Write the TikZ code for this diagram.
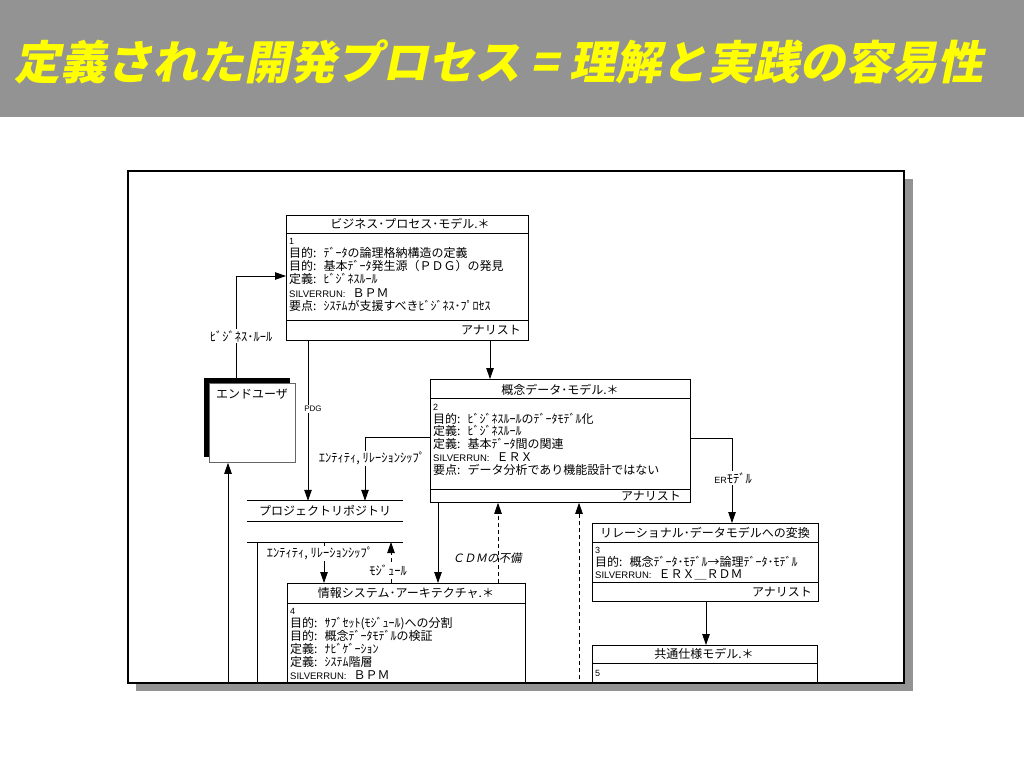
\documentclass[tikz,border=0pt]{standalone}
\usepackage{fontspec}
\setmainfont{Noto Sans CJK JP}
\newfontfamily\jpsl[FakeSlant=0.2]{Noto Sans CJK JP}
\newfontfamily\lat{Liberation Sans}
\usetikzlibrary{arrows.meta}
\definecolor{barcol}{HTML}{939393}
\definecolor{ttlyellow}{HTML}{FFFF00}
\newcommand{\sr}{{\lat\fontsize{9.5}{9}\selectfont SILVERRUN:}\hspace{7pt}}
\newcommand{\dg}[1]{\rule{0pt}{9pt}{\lat\fontsize{9}{9}\selectfont #1}}
\newcommand{\colsp}{:\hspace{7pt}}
\begin{document}
\begin{tikzpicture}[x=1pt,y=-1pt,
  boxst/.style={draw=black, line width=0.8pt, fill=white, inner sep=0pt, anchor=north west},
  sepline/.style={line width=0.8pt},
  ttl/.style={font=\fontsize{12}{12}\selectfont, inner sep=0pt},
  bodyst/.style={font=\fontsize{12}{12.8}\selectfont, align=left, inner sep=0pt, anchor=north west},
  foot/.style={font=\fontsize{12}{12}\selectfont, inner sep=0pt, anchor=east},
  conn/.style={line width=0.8pt, -{Triangle[length=11pt,width=7.5pt]}},
  dconn/.style={conn, dash pattern=on 4pt off 3pt},
  plain/.style={line width=0.8pt},
  lbl/.style={fill=white, inner sep=1pt, font=\fontsize{12.5}{12.5}\selectfont},
]
\useasboundingbox (0,0) rectangle (1024,768);
\fill[white] (0,0) rectangle (1024,768);
% title bar
\fill[barcol] (0,0) rectangle (1024,117);
\node[anchor=west, inner sep=0pt, text=ttlyellow, font=\jpsl\bfseries\fontsize{46}{46}\selectfont] (title) at (14,62) {定義された開発プロセス = 理解と実践の容易性};
% frame with shadow
\fill[barcol] (136,179) rectangle (913,691);
\fill[white] (128,171) rectangle (904,683);
\begin{scope}
\clip (128,171) rectangle (904,683);
% ---- box 1
\node[boxst, minimum width=242pt, minimum height=125pt] (b1) at (286,215) {};
\draw[sepline] ([yshift=-18pt]b1.north west) -- ([yshift=-18pt]b1.north east);
\draw[sepline] ([yshift=20pt]b1.south west) -- ([yshift=20pt]b1.south east);
\node[ttl] (b1t) at (410,224) {ビジネス･プロセス･モデル.＊};
\node[bodyst, font=\fontsize{12}{13.2}\selectfont] (b1b) at (289,235) {\dg{1}\\
目的\colsp ﾃﾞｰﾀの論理格納構造の定義\\
目的\colsp 基本ﾃﾞｰﾀ発生源（ＰＤＧ）の発見\\
定義\colsp ﾋﾞｼﾞﾈｽﾙｰﾙ\\
\sr ＢＰＭ\\
要点\colsp ｼｽﾃﾑが支援すべきﾋﾞｼﾞﾈｽ･ﾌﾟﾛｾｽ};
\node[foot] (b1f) at (521,330) {アナリスト};
% ---- box 2
\node[boxst, minimum width=260pt, minimum height=123pt] (b2) at (430,379) {};
\draw[sepline] ([yshift=-19pt]b2.north west) -- ([yshift=-19pt]b2.north east);
\draw[sepline] ([yshift=13pt]b2.south west) -- ([yshift=13pt]b2.south east);
\node[ttl] (b2t) at (560,390) {概念データ･モデル.＊};
\node[bodyst] (b2b) at (433,401) {\dg{2}\\
目的\colsp ﾋﾞｼﾞﾈｽﾙｰﾙのﾃﾞｰﾀﾓﾃﾞﾙ化\\
定義\colsp ﾋﾞｼﾞﾈｽﾙｰﾙ\\
定義\colsp 基本ﾃﾞｰﾀ間の関連\\
\sr ＥＲＸ\\
要点\colsp データ分析であり機能設計ではない};
\node[foot] (b2f) at (681,496) {アナリスト};
% ---- box 3
\node[boxst, minimum width=226pt, minimum height=78pt] (b3) at (592,523) {};
\draw[sepline] ([yshift=-19pt]b3.north west) -- ([yshift=-19pt]b3.north east);
\draw[sepline] ([yshift=19pt]b3.south west) -- ([yshift=19pt]b3.south east);
\node[ttl] (b3t) at (705,533) {リレーショナル･データモデルへの変換};
\node[bodyst] (b3b) at (595,544) {\dg{3}\\
目的\colsp 概念ﾃﾞｰﾀ･ﾓﾃﾞﾙ→論理ﾃﾞｰﾀ･ﾓﾃﾞﾙ\\
\sr ＥＲＸ＿ＲＤＭ};
\node[foot] (b3f) at (812,592) {アナリスト};
% ---- box 4
\node[boxst, minimum width=238pt, minimum height=140pt] (b4) at (287,583) {};
\draw[sepline] ([yshift=-20pt]b4.north west) -- ([yshift=-20pt]b4.north east);
\node[ttl] (b4t) at (406,593) {情報システム･アーキテクチャ.＊};
\node[bodyst, font=\fontsize{12}{13}\selectfont] (b4b) at (290,605) {\dg{4}\\
目的\colsp ｻﾌﾞｾｯﾄ(ﾓｼﾞｭｰﾙ)への分割\\
目的\colsp 概念ﾃﾞｰﾀﾓﾃﾞﾙの検証\\
定義\colsp ﾅﾋﾞｹﾞｰｼｮﾝ\\
定義\colsp ｼｽﾃﾑ階層\\
\sr ＢＰＭ};
% ---- box 5
\node[boxst, minimum width=225pt, minimum height=80pt] (b5) at (592,645) {};
\draw[sepline] ([yshift=-18pt]b5.north west) -- ([yshift=-18pt]b5.north east);
\node[ttl] (b5t) at (704,654) {共通仕様モデル.＊};
\node[bodyst] (b5b) at (595,667) {\dg{5}};
% ---- end user
\node[fill=black, inner sep=0pt, minimum width=86pt, minimum height=79pt, anchor=north west] (eush) at (204,378) {};
\node[draw=black!60, fill=white, line width=0.8pt, inner sep=0pt, minimum width=86pt, minimum height=79pt, anchor=north west] (eu) at (209,383) {};
\node[anchor=west, inner sep=0pt, font=\fontsize{12}{12}\selectfont] (eut) at (216,394) {エンドユーザ};
% ---- repository
\node[inner sep=0pt, minimum width=156pt, minimum height=20pt, font=\fontsize{12}{12}\selectfont] (rep) at (325,511) {プロジェクトリポジトリ};
\draw[plain] (rep.north west) -- (rep.north east);
\draw[plain] (rep.south west) -- (rep.south east);
\coordinate (r2w) at (247,542);
\coordinate (r2e) at (403,542);
\draw[plain] (r2w) -- (r2e);
\coordinate (bot257) at (257,700);
\draw[plain] (r2w -| 257,0) -- (bot257);
% ---- connectors
\draw[conn] (eush.north -| 236,0) |- (b1.west |- 0,276);
\node[lbl] (lbr) at (241,336) {ﾋﾞｼﾞﾈｽ･ﾙｰﾙ};
\draw[conn] (b1.south -| 308,0) -- (rep.north -| 308,0);
\node[lbl, font=\lat\fontsize{8}{8}\selectfont] (lpdg) at (313,409) {PDG};
\draw[conn] (b2.west |- 0,437) -| (rep.north -| 365,0);
\node[lbl] (lent1) at (372,458) {ｴﾝﾃｨﾃｨ, ﾘﾚｰｼｮﾝｼｯﾌﾟ};
\draw[conn] (b1.south -| 490,0) -- (b2.north -| 490,0);
\draw[conn] (b2.east |- 0,438) -| (b3.north -| 732,0);
\node[lbl] (ler) at (733,478) {{\lat\fontsize{9}{9}\selectfont ER}ﾓﾃﾞﾙ};
\draw[conn] (b3.south -| 706,0) -- (b5.north -| 706,0);
\draw[conn] (b2.south -| 438,0) -- (b4.north -| 438,0);
\draw[dconn] (b4.north -| 498,0) -- (b2.south -| 498,0);
\node[lbl, font=\jpsl\fontsize{11.5}{11.5}\selectfont, fill=none] (lcdm) at (487,558) {ＣＤＭの不備};
\coordinate (bot579) at (579,700);
\draw[dconn] (bot579) -- (b2.south -| 579,0);
\draw[conn] (r2w -| 324,0) -- (b4.north -| 324,0);
\node[lbl] (lent2) at (320,553) {ｴﾝﾃｨﾃｨ, ﾘﾚｰｼｮﾝｼｯﾌﾟ};
\draw[dconn] (b4.north -| 391,0) -- (r2w -| 391,0);
\node[lbl] (lmod) at (388,570) {ﾓｼﾞｭｰﾙ};
\coordinate (bot228) at (228,700);
\draw[conn] (bot228) -- (eu.south -| 228,0);
\end{scope}
\draw[line width=1.6pt] (128,171) rectangle (904,683);
\end{tikzpicture}
\end{document}
